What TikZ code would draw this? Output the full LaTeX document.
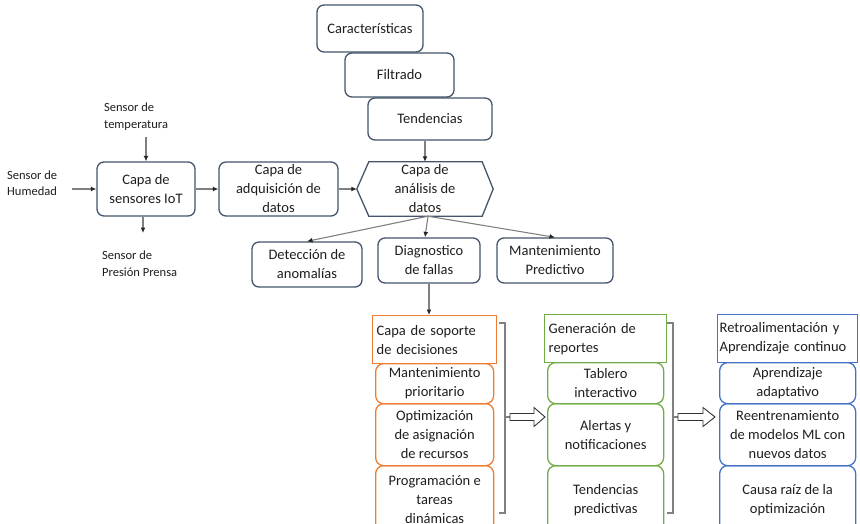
\documentclass[tikz,border=0pt]{standalone}
\usepackage{fontspec}
\setmainfont{Carlito}
\usetikzlibrary{arrows.meta,calc}
\definecolor{slate}{HTML}{44546A}
\definecolor{orng}{HTML}{ED7D31}
\definecolor{grn}{HTML}{70AD47}
\definecolor{blu}{HTML}{4472C4}
\definecolor{conn}{HTML}{808080}
\definecolor{ink}{HTML}{1E1E1E}
\newcommand\bodyfs{\fontsize{14.5}{19}\selectfont}
\newcommand\smallfs{\fontsize{12.5}{16.5}\selectfont}
\tikzset{
  box/.style={draw=slate, line width=1.3pt, rounded corners=7pt, align=center,
    inner sep=0pt, font=\bodyfs, text=ink},
  headbox/.style={draw=#1, line width=1.3pt, align=left, inner sep=0pt,
    font=\bodyfs, text=ink, anchor=north west},
  subbox/.style={draw=#1, line width=1.3pt, rounded corners=8pt, align=center,
    inner sep=0pt, font=\bodyfs, text=ink, anchor=north west},
  lbl/.style={font=\smallfs, text=ink, align=left, inner sep=0pt, anchor=west},
  arr/.style={draw=conn, line width=1.1pt, -{Latex[length=5.5pt,width=5pt,color=black!85]}},
  brk/.style={draw=conn, line width=1.1pt},
  hollow/.style={draw=black!80, line width=0.9pt, fill=white}
}
\begin{document}
\begin{tikzpicture}[x=1pt,y=-1pt]
\useasboundingbox (0,0) rectangle (860,524);

% upper chain of boxes
\node[box, minimum width=98, minimum height=54] (iot) at (146,189) {Capa de\\sensores IoT};
\node[box, minimum width=119, minimum height=54] (adq) at (278.5,189) {Capa de\\adquisición de\\datos};
\node[align=center, inner sep=0pt, font=\bodyfs, text=ink, minimum width=136, minimum height=54] (ana) at (425,189) {Capa de\\análisis de\\datos};
\draw[slate, line width=1.3pt] (ana.west) -- ([xshift=12pt]ana.north west) -- ([xshift=-11pt]ana.north east)
  -- (ana.east) -- ([xshift=-11pt]ana.south east) -- ([xshift=12pt]ana.south west) -- cycle;

\node[box, minimum width=106, minimum height=47] (car) at (370,28.5) {Características};
\node[box, minimum width=109, minimum height=44] (fil) at (399.5,75) {Filtrado};
\node[box, minimum width=124, minimum height=42] (ten) at (430,119) {Tendencias};

\node[box, minimum width=110, minimum height=45] (det) at (307,264.5) {Detección de\\anomalías};
\node[box, minimum width=102, minimum height=45] (dia) at (429,260.5) {Diagnostico\\de fallas};
\node[box, minimum width=116, minimum height=45] (man) at (555,260.5) {Mantenimiento\\Predictivo};

% sensor inputs
\node[lbl] (hum) at (7,183) {Sensor de\\Humedad};
\node[lbl] (tem) at (104,116.5) {Sensor de\\temperatura};
\node[lbl] (pre) at (102,263.5) {Sensor de\\Presión Prensa};
\coordinate (humend) at (72,189);
\coordinate (temend) at (146,137);
\coordinate (preend) at (143,233);
\draw[arr] (humend) -- (iot.west);
\draw[arr] (temend) -- (iot.north);
\draw[arr] ([xshift=-3pt]iot.south) -- (preend);

% main flow
\draw[arr] (iot.east) -- (adq.west);
\draw[arr] (adq.east) -- (ana.west);
\draw[arr] (ana.north |- ten.south) -- (ana.north);
\draw[arr] ([xshift=3pt]ana.south) -- (det.north);
\draw[arr] ([xshift=3pt]ana.south) -- (ana.south |- dia.north);
\draw[arr] ([xshift=3pt]ana.south) -- (man.north);

% decision support column
\node[headbox=orng, minimum width=124, minimum height=48, text width=116, inner xsep=4pt] (sop) at (372,315) {Capa de soporte\\de decisiones};
\node[subbox=orng, minimum width=118, minimum height=40] (mpr) at (375,363) {Mantenimiento\\prioritario};
\node[subbox=orng, minimum width=118, minimum height=62] (opt) at (375,403) {Optimización\\de asignación\\de recursos};
\node[subbox=orng, minimum width=118, minimum height=68] (prg) at (375,465) {Programación e\\tareas\\dinámicas};
\draw[arr] (dia.south) -- (dia.south |- sop.north);

% reporting column
\node[headbox=grn, minimum width=122, minimum height=48, text width=114, inner xsep=4pt] (gen) at (544,314) {Generación de\\reportes};
\node[subbox=grn, minimum width=116, minimum height=41] (tab) at (547,362) {Tablero\\interactivo};
\node[subbox=grn, minimum width=116, minimum height=62] (ale) at (547,403) {Alertas y\\notificaciones};
\node[subbox=grn, minimum width=116, minimum height=68] (tpr) at (547,465) {Tendencias\\predictivas};

% feedback column
\node[headbox=blu, minimum width=140, minimum height=48, text width=136, inner xsep=2pt] (ret) at (717,314) {Retroalimentación y\\Aprendizaje continuo};
\node[subbox=blu, minimum width=136, minimum height=41] (apr) at (719,362) {Aprendizaje\\adaptativo};
\node[subbox=blu, minimum width=136, minimum height=62] (ree) at (719,403) {Reentrenamiento\\de modelos ML con\\nuevos datos};
\node[subbox=blu, minimum width=136, minimum height=68] (cau) at (719,465) {Causa raíz de la\\optimización};

% brackets gathering each column
\draw[brk] (499,323) -- (505,323) -- (505,513) -- (499,513);
\draw[brk] (505,417) -- (510,417) coordinate (s1);
\draw[brk] (667,323) -- (673,323) -- (673,513) -- (667,513);
\draw[brk] (673,417) -- (678,417) coordinate (s2);

% hollow arrows between columns
\draw[hollow] ($(s1)+(0,-3.5)$) -- ++(24,0) -- ++(0,-6) -- ($(s1)+(35,0)$) -- ++(-11,9.5) -- ++(0,-6) -- ($(s1)+(0,3.5)$) -- cycle;
\draw[hollow] ($(s2)+(0,-3.5)$) -- ++(25,0) -- ++(0,-6) -- ($(s2)+(37,0)$) -- ++(-12,9.5) -- ++(0,-6) -- ($(s2)+(0,3.5)$) -- cycle;
\end{tikzpicture}
\end{document}
